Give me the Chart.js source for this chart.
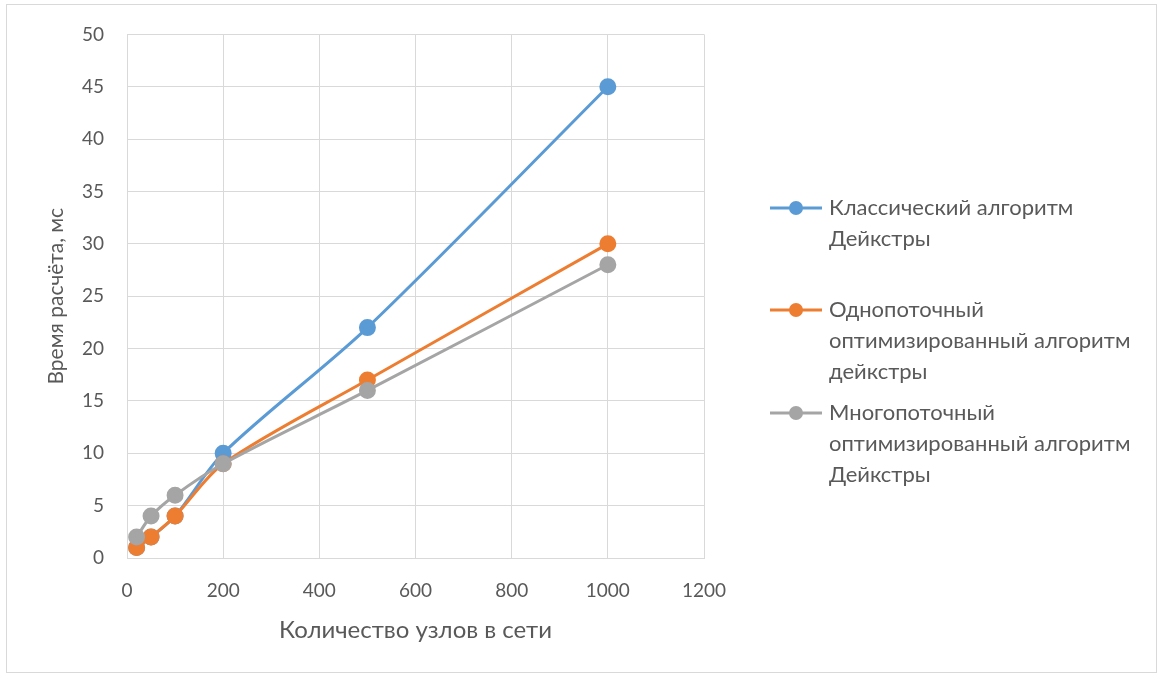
<!DOCTYPE html>
<html lang="ru">
<head>
<meta charset="utf-8">
<title>Время расчёта алгоритмов Дейкстры</title>
<script src="https://cdn.jsdelivr.net/npm/chart.js@4.4.1/dist/chart.umd.min.js"></script>
<style>
  html, body { margin: 0; padding: 0; background: #ffffff; }
  #wrap { position: relative; width: 1163px; height: 678px; }
</style>
</head>
<body>
<div id="wrap"><canvas id="chart"></canvas></div>
<script>
// Количество узлов в сети
const nodes = [20, 50, 100, 200, 500, 1000];
// Время расчёта, мс
const classicTimes = [1, 2, 4, 10, 22, 45];
const singleThreadTimes = [1, 2, 4, 9, 17, 30];
const multiThreadTimes = [2, 4, 6, 9, 16, 28];

const seriesNames = [
  ['Классический алгоритм', 'Дейкстры'],
  ['Однопоточный', 'оптимизированный алгоритм', 'дейкстры'],
  ['Многопоточный', 'оптимизированный алгоритм', 'Дейкстры']
];
const seriesColors = ['#5B9BD5', '#ED7D31', '#A5A5A5'];

const xTicks = [0, 200, 400, 600, 800, 1000, 1200];
const yTicks = [0, 5, 10, 15, 20, 25, 30, 35, 40, 45, 50];

const FONT = 'Lato, "Open Sans", sans-serif';
const TEXT = '#595959';
const GRID = '#d9d9d9';

function toPoints(values) {
  return nodes.map((n, i) => ({ x: n, y: values[i] }));
}

const seriesValues = [classicTimes, singleThreadTimes, multiThreadTimes];
const datasets = seriesValues.map((vals, i) => ({
  label: seriesNames[i].join(' '),
  data: toPoints(vals),
  borderColor: seriesColors[i],
  backgroundColor: seriesColors[i],
  pointBackgroundColor: seriesColors[i],
  pointBorderColor: seriesColors[i],
  borderWidth: 3,
  pointRadius: 7,
  pointHoverRadius: 7,
  tension: 0.3,
  order: 2 - i
}));

// Frame around the whole chart
const framePlugin = {
  id: 'frame',
  beforeDraw(chart) {
    const ctx = chart.ctx;
    ctx.save();
    ctx.fillStyle = '#ffffff';
    ctx.fillRect(0, 0, chart.width, chart.height);
    ctx.strokeStyle = GRID;
    ctx.lineWidth = 1;
    ctx.strokeRect(6.5, 4.5, chart.width - 13, chart.height - 10);
    ctx.restore();
  }
};

// Legend on the right, one entry per dataset with wrapped names
const sideLegend = {
  id: 'sideLegend',
  afterDraw(chart, args, opts) {
    const ctx = chart.ctx;
    ctx.save();
    ctx.font = opts.font;
    ctx.textBaseline = 'middle';
    ctx.textAlign = 'left';
    chart.data.datasets.forEach((ds, i) => {
      const y0 = opts.rowTops[i];
      ctx.strokeStyle = ds.borderColor;
      ctx.lineWidth = 3;
      ctx.beginPath();
      ctx.moveTo(opts.x, y0);
      ctx.lineTo(opts.x + opts.lineLen, y0);
      ctx.stroke();
      ctx.fillStyle = ds.borderColor;
      ctx.beginPath();
      ctx.arc(opts.x + opts.lineLen / 2, y0, 7, 0, Math.PI * 2);
      ctx.fill();
      ctx.fillStyle = TEXT;
      seriesNames[i].forEach((line, k) => {
        ctx.fillText(line, opts.x + opts.lineLen + 7, y0 + k * opts.lineHeight);
      });
    });
    ctx.restore();
  }
};

new Chart(document.getElementById('chart'), {
  type: 'line',
  data: { datasets },
  plugins: [framePlugin, sideLegend],
  options: {
    responsive: true,
    maintainAspectRatio: false,
    animation: false,
    layout: { padding: { left: 0, top: 33, right: 1163 - 704, bottom: 0 } },
    plugins: {
      legend: { display: false },
      tooltip: { enabled: false },
      sideLegend: {
        x: 770, lineLen: 52, lineHeight: 31,
        rowTops: [208, 310, 413],
        font: '22px ' + FONT
      }
    },
    scales: {
      x: {
        type: 'linear',
        min: 0, max: 1200,
        afterBuildTicks(scale) { scale.ticks = xTicks.map(v => ({ value: v })); },
        afterFit(scale) { scale.height = 120; },
        grid: { color: GRID, lineWidth: 1, drawTicks: false },
        border: { color: GRID, width: 1 },
        ticks: {
          color: TEXT, font: { family: FONT, size: 19 }, padding: 21, maxRotation: 0,
          callback: v => String(v)
        },
        title: {
          display: true, text: 'Количество узлов в сети', color: TEXT,
          font: { family: FONT, size: 24 }, padding: { top: 0, bottom: 33 }
        }
      },
      y: {
        type: 'linear',
        min: 0, max: 50,
        afterBuildTicks(scale) { scale.ticks = yTicks.map(v => ({ value: v })); },
        afterFit(scale) { scale.width = 127; },
        grid: { color: GRID, lineWidth: 1, drawTicks: false },
        border: { color: GRID, width: 1 },
        ticks: {
          color: TEXT, font: { family: FONT, size: 19 }, padding: 23,
          callback: v => String(v)
        },
        title: {
          display: true, text: 'Время расчёта, мс', color: TEXT,
          font: { family: FONT, size: 21 }, padding: { top: 44, bottom: 0 }
        }
      }
    }
  }
});
</script>
</body>
</html>
